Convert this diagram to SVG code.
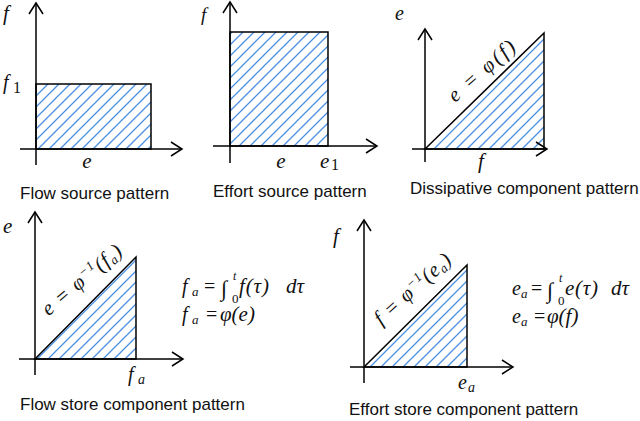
<svg xmlns="http://www.w3.org/2000/svg" width="640" height="421" viewBox="0 0 640 421">
<style>
.ax{stroke:#000;stroke-width:1.5;fill:none}
.sh{stroke:#000;stroke-width:1.5;fill:url(#hatch)}
.cap{font-family:"Liberation Sans",Arial,sans-serif;font-size:17px;fill:#111}
.m{font-family:"Liberation Serif","DejaVu Serif",serif;font-style:italic;fill:#111}
.n{font-family:"Liberation Serif","DejaVu Serif",serif;font-style:normal;fill:#111}
</style>
<defs>
<pattern id="hatch" patternUnits="userSpaceOnUse" width="11" height="11">
<path d="M0,11 L11,0 M-1,1 L1,-1 M10,12 L12,10" stroke="#4a8fe0" stroke-width="1.3"/>
</pattern>
<marker id="arr" markerUnits="userSpaceOnUse" markerWidth="16" markerHeight="16" viewBox="0 0 16 16" refX="12" refY="8" orient="auto">
<path d="M1,1 L12,8 L1,15" fill="none" stroke="#000" stroke-width="1.5"/>
</marker>
</defs>

<g id="flow-source">
<path class="sh" d="M36,84 H151 V149 H36 Z"/>
<line class="ax" x1="36" y1="165" x2="36" y2="3" marker-end="url(#arr)"/>
<line class="ax" x1="20" y1="149" x2="182" y2="149" marker-end="url(#arr)"/>
<text class="m" x="3" y="20" font-size="21">f</text>
<text class="m" x="3" y="89" font-size="20">f</text><text class="n" x="13" y="93" font-size="16">1</text>
<text class="m" x="87" y="168" font-size="21" text-anchor="middle">e</text>
<text class="cap" x="20" y="199">Flow source pattern</text>
</g>

<g id="effort-source">
<path class="sh" d="M230,32 H328 V146 H230 Z"/>
<line class="ax" x1="230" y1="163" x2="230" y2="2" marker-end="url(#arr)"/>
<line class="ax" x1="213" y1="146" x2="377" y2="146" marker-end="url(#arr)"/>
<text class="m" x="201" y="21" font-size="19">f</text>
<text class="m" x="281" y="168" font-size="21" text-anchor="middle">e</text>
<text class="m" x="320" y="168" font-size="21">e</text><text class="n" x="331" y="170" font-size="16">1</text>
<text class="cap" x="213" y="197">Effort source pattern</text>
</g>

<g id="dissipative">
<path class="sh" d="M425,149 L544,33 L544,149 Z"/>
<line class="ax" x1="425" y1="162" x2="425" y2="29" marker-end="url(#arr)"/>
<line class="ax" x1="412" y1="149" x2="547" y2="149" marker-end="url(#arr)"/>
<text class="m" x="395" y="20" font-size="20">e</text>
<text class="m" x="481" y="168" font-size="21" text-anchor="middle">f</text>
<text class="m" font-size="21" text-anchor="middle" transform="translate(486,76) rotate(-41)" textLength="82" lengthAdjust="spacing">e = φ(f)</text>
<text class="cap" x="410" y="194">Dissipative component pattern</text>
</g>

<g id="flow-store">
<path class="sh" d="M35,359 L136,257 L136,359 Z"/>
<line class="ax" x1="35" y1="375" x2="35" y2="212" marker-end="url(#arr)"/>
<line class="ax" x1="19" y1="359" x2="183" y2="359" marker-end="url(#arr)"/>
<text class="m" x="3" y="233" font-size="21">e</text>
<text class="m" x="128" y="381" font-size="20">f</text><text class="m" x="138" y="384" font-size="14">a</text>
<text class="m" font-size="21" text-anchor="middle" transform="translate(86,285) rotate(-40)" textLength="98" lengthAdjust="spacing">e = φ<tspan font-size="13" dy="-8">−1</tspan><tspan dy="8">(f</tspan><tspan font-size="13" dy="3">a</tspan><tspan dy="-3">)</tspan></text>
<text class="m" x="182" y="293" font-size="20">f</text><text class="m" x="192" y="296" font-size="13">a</text>
<text class="n" x="204" y="293" font-size="20">=</text>
<text class="n" x="221" y="296" font-size="22">∫</text>
<text class="m" x="233" y="280" font-size="12">t</text>
<text class="n" x="232" y="303" font-size="13">0</text>
<text class="m" x="239" y="293" font-size="21" textLength="30" lengthAdjust="spacing">f(τ)</text>
<text class="m" x="286" y="293" font-size="21">dτ</text>
<text class="m" x="182" y="321" font-size="20">f</text><text class="m" x="192" y="324" font-size="13">a</text>
<text class="n" x="206" y="321" font-size="20">=</text>
<text class="m" x="220" y="321" font-size="21">φ(e)</text>
<text class="cap" x="20" y="410">Flow store component pattern</text>
</g>

<g id="effort-store">
<path class="sh" d="M364,367 L467,265 L467,367 Z"/>
<line class="ax" x1="364" y1="383" x2="364" y2="220" marker-end="url(#arr)"/>
<line class="ax" x1="350" y1="367" x2="513" y2="367" marker-end="url(#arr)"/>
<text class="m" x="333" y="243" font-size="21">f</text>
<text class="m" x="458" y="389" font-size="20">e</text><text class="m" x="468" y="392" font-size="14">a</text>
<text class="m" font-size="21" text-anchor="middle" transform="translate(417,294) rotate(-42)" textLength="96" lengthAdjust="spacing">f = φ<tspan font-size="13" dy="-8">−1</tspan><tspan dy="8">(e</tspan><tspan font-size="13" dy="3">a</tspan><tspan dy="-3">)</tspan></text>
<text class="m" x="512" y="295" font-size="20">e</text><text class="m" x="521" y="298" font-size="13">a</text>
<text class="n" x="531" y="295" font-size="20">=</text>
<text class="n" x="547" y="298" font-size="22">∫</text>
<text class="m" x="559" y="282" font-size="12">t</text>
<text class="n" x="558" y="305" font-size="13">0</text>
<text class="m" x="565" y="295" font-size="21" textLength="33" lengthAdjust="spacing">e(τ)</text>
<text class="m" x="611" y="295" font-size="21">dτ</text>
<text class="m" x="512" y="323" font-size="20">e</text><text class="m" x="521" y="326" font-size="13">a</text>
<text class="n" x="534" y="323" font-size="20">=</text>
<text class="m" x="547" y="323" font-size="21">φ(f)</text>
<text class="cap" x="349" y="415" font-size="16">Effort store component pattern</text>
</g>
</svg>
